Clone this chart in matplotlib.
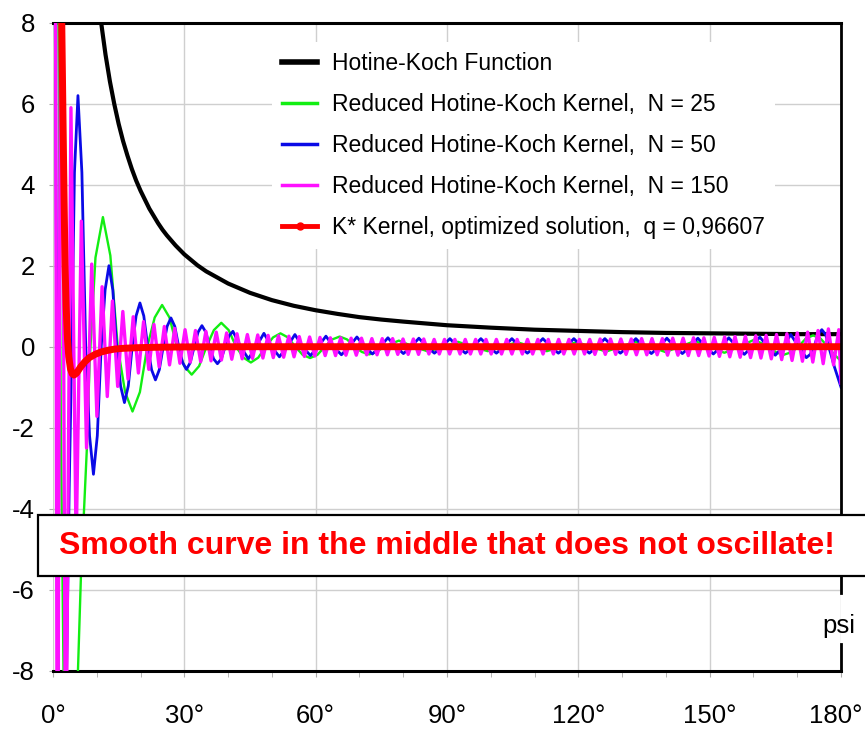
import matplotlib
matplotlib.use('Agg')
import matplotlib.pyplot as plt
from matplotlib.lines import Line2D
from matplotlib.patches import Rectangle
from matplotlib.ticker import MultipleLocator
from matplotlib.transforms import ScaledTranslation

# ---- data (psi in degrees, kernel value) ----
hk_x = [10, 11, 12, 13, 14, 15, 16, 17, 18, 19, 20, 22, 24, 25, 26, 28, 30, 33, 35, 40,
        45, 50, 55, 60, 65, 70, 75, 80, 90, 100, 110, 120, 130, 140, 150, 160, 170, 180]
hk_y = [8.95, 8.0, 7.21, 6.55, 5.99, 5.50, 5.08, 4.72, 4.39, 4.10, 3.85, 3.41, 3.05, 2.89,
        2.75, 2.50, 2.28, 2.01, 1.86, 1.56, 1.33, 1.15, 1.01, 0.90, 0.81, 0.73, 0.67, 0.62,
        0.53, 0.47, 0.42, 0.39, 0.36, 0.34, 0.33, 0.32, 0.31, 0.31]

n25_x = [0.0, 1.0, 1.8, 2.9, 4.0, 5.0, 5.7, 6.4, 7.06, 7.74,
         8.4, 9.7, 11.4, 13.1, 14.78, 16.47, 18.16, 19.85, 21.54, 23.23,
         24.92, 26.61, 28.3, 29.99, 31.68, 33.37, 35.06, 36.75, 38.44, 40.13,
         41.82, 43.51, 45.2, 46.89, 48.58, 50.27, 51.96, 53.65, 55.34, 57.03,
         58.72, 60.41, 62.1, 63.79, 65.48, 67.17, 68.86, 70.55, 72.24, 73.93,
         75.62, 79.0, 82.38, 85.76, 89.14, 92.52, 95.9, 99.28, 102.66, 106.04,
         109.42, 112.8, 116.18, 119.56, 122.94, 126.32, 129.7, 133.08, 136.46, 139.84,
         143.22, 146.6, 149.98, 153.36, 156.74, 160.12, 163.5, 165.19, 166.88, 168.57,
         170.26, 171.95, 173.64, 175.33, 177.02, 178.5, 180.0]
n25_y = [40, 12, -2, -13, -16, -12, -8, -5.6, -4.1, -2.5,
         -0.3, 2.2, 3.2, 2.25, 0, -1.12, -1.6, -1.12, 0, 0.72,
         1.03, 0.72, 0, -0.48, -0.69, -0.48, 0, 0.41, 0.59, 0.41,
         0, -0.27, -0.39, -0.27, 0, 0.23, 0.33, 0.23, 0, -0.2,
         -0.28, -0.2, 0, 0.18, 0.25, 0.18, 0, -0.13, -0.19, -0.13,
         0, 0.15, 0, -0.12, 0, 0.12, 0, -0.11, 0, 0.11,
         0, -0.11, 0, 0.11, 0, -0.12, 0, 0.12, 0, -0.13,
         0, 0.14, 0, -0.15, 0, 0.17, 0, -0.14, -0.2, -0.14,
         0, 0.2, 0.28, 0.2, 0, -0.2, -0.35]

n50_x = [0.0, 0.5, 1.2, 2.2, 3.1, 3.7, 4.3, 4.9, 5.7, 6.6,
         7.47, 8.35, 9.24, 10.12, 11.01, 11.9, 12.78, 13.66, 14.55, 15.44,
         16.32, 17.2, 18.09, 18.98, 19.86, 20.74, 21.63, 22.52, 23.4, 24.28,
         25.17, 26.06, 26.94, 27.82, 28.71, 29.6, 30.48, 31.36, 32.25, 33.14,
         34.02, 34.9, 35.79, 36.68, 37.56, 38.44, 39.33, 40.22, 41.1, 42.87,
         44.64, 46.41, 48.18, 49.95, 51.72, 53.49, 55.26, 57.03, 58.8, 60.57,
         62.34, 64.11, 65.88, 67.65, 69.42, 71.19, 72.96, 74.73, 76.5, 78.27,
         80.04, 81.81, 83.58, 85.35, 87.12, 88.89, 90.66, 92.43, 94.2, 95.97,
         97.74, 99.51, 101.28, 103.05, 104.82, 106.59, 108.36, 110.13, 111.9, 113.67,
         115.44, 117.21, 118.98, 120.75, 122.52, 124.29, 126.06, 127.83, 129.6, 131.37,
         133.14, 134.91, 136.68, 138.45, 140.22, 141.99, 143.76, 145.53, 147.3, 149.07,
         150.84, 152.61, 154.38, 156.15, 157.92, 159.69, 161.46, 163.23, 165.0, 166.77,
         168.54, 170.31, 172.08, 172.96, 173.85, 174.74, 175.62, 176.5, 177.2, 178.5,
         180.0]
n50_y = [40, 8.5, -8.5, -15, -8, -3.5, 0, 4.3, 6.2, 4.3,
         0, -2.2, -3.15, -2.2, 0, 1.4, 2.0, 1.4, 0, -0.97,
         -1.38, -0.97, 0, 0.76, 1.08, 0.76, 0, -0.57, -0.82, -0.57,
         0, 0.5, 0.71, 0.5, 0, -0.39, -0.56, -0.39, 0, 0.36,
         0.52, 0.36, 0, -0.3, -0.42, -0.3, 0, 0.27, 0.38, 0,
         -0.3, 0, 0.33, 0, -0.25, 0, 0.30, 0, -0.22, 0,
         0.26, 0, -0.2, 0, 0.24, 0, -0.18, 0, 0.22, 0,
         -0.17, 0, 0.21, 0, -0.16, 0, 0.2, 0, -0.16, 0,
         0.2, 0, -0.16, 0, 0.2, 0, -0.16, 0, 0.2, 0,
         -0.16, 0, 0.2, 0, -0.16, 0, 0.2, 0, -0.16, 0,
         0.2, 0, -0.17, 0, 0.21, 0, -0.17, 0, 0.21, 0,
         -0.18, 0, 0.22, 0, -0.19, 0, 0.24, 0, -0.21, 0,
         0.30, 0, -0.27, -0.19, 0, 0.3, 0.42, 0.3, 0, -0.5,
         -1.0]

n150_x = [0.0, 1.0, 1.9, 2.9, 4.1, 5.29, 6.47, 7.66, 8.84, 10.03,
          11.21, 12.4, 13.58, 14.77, 15.95, 17.14, 18.32, 19.51, 20.69, 21.88,
          23.06, 24.25, 25.43, 26.62, 27.8, 28.99, 30.17, 31.36, 32.54,
          33.73, 34.92, 36.10, 37.29, 38.47, 39.66, 40.84, 42.03, 43.21, 44.40,
          45.58, 46.77, 47.95, 49.14, 50.32, 51.51, 52.69, 53.88, 55.06, 56.25,
          57.43, 58.62, 59.80, 60.99, 62.17, 63.36, 64.54, 65.73, 66.91, 68.10,
          69.28, 70.47, 71.65, 72.84, 74.02, 75.21, 76.39, 77.58, 78.76, 79.95,
          81.13, 82.32, 83.50, 84.69, 85.87, 87.06, 88.24, 89.43, 90.61, 91.80,
          92.98, 94.17, 95.35, 96.54, 97.72, 98.91, 100.09, 101.28, 102.46, 103.65,
          104.83, 106.02, 107.20, 108.39, 109.57, 110.76, 111.94, 113.13, 114.31, 115.50,
          116.68, 117.87, 119.05, 120.24, 121.42, 122.61, 123.79, 124.98, 126.16, 127.35,
          128.53, 129.72, 130.90, 132.09, 133.27, 134.46, 135.64, 136.83, 138.01, 139.20,
          140.38, 141.57, 142.75, 143.94, 145.12, 146.31, 147.49, 148.68, 149.86, 151.05,
          152.23, 153.42, 154.60, 155.79, 156.97, 158.16, 159.34, 160.53, 161.71, 162.90,
          164.08, 165.27, 166.45, 167.64, 168.82, 170.01, 171.19, 172.38, 173.56, 174.75,
          175.93, 177.12, 178.30, 179.49, 180.0]
n150_y = [40, -14, 14, -12, 5.9, -5.0, 3.1, -2.5, 2.04, -1.72,
          1.48, -1.23, 1.13, -0.98, 0.87, -0.8, 0.74, -0.65, 0.62, -0.56,
          0.55, -0.5, 0.5, -0.45, 0.45, -0.41, 0.42, -0.38, 0.4,
          -0.37, 0.38, -0.35, 0.36, -0.33, 0.34, -0.31, 0.32, -0.3, 0.3,
          -0.29, 0.29, -0.28, 0.28, -0.27, 0.27, -0.26, 0.26, -0.25, 0.25,
          -0.24, 0.24, -0.23, 0.23, -0.22, 0.22, -0.22, 0.22, -0.21, 0.21,
          -0.21, 0.21, -0.2, 0.2, -0.2, 0.2, -0.2, 0.2, -0.19, 0.19,
          -0.19, 0.19, -0.19, 0.19, -0.18, 0.18, -0.18, 0.18, -0.18, 0.18,
          -0.18, 0.18, -0.18, 0.18, -0.18, 0.18, -0.18, 0.18, -0.18, 0.18,
          -0.18, 0.18, -0.18, 0.18, -0.18, 0.18, -0.18, 0.18, -0.18, 0.18,
          -0.18, 0.18, -0.18, 0.18, -0.18, 0.18, -0.19, 0.19, -0.19, 0.19,
          -0.19, 0.19, -0.19, 0.19, -0.2, 0.2, -0.2, 0.2, -0.2, 0.2,
          -0.21, 0.21, -0.21, 0.21, -0.22, 0.22, -0.22, 0.22, -0.23, 0.23,
          -0.24, 0.24, -0.25, 0.25, -0.26, 0.26, -0.27, 0.27, -0.28, 0.28,
          -0.3, 0.3, -0.32, 0.32, -0.34, 0.34, -0.36, 0.36, -0.38, 0.4,
          -0.42, 0.44, -0.45, 0.42, -0.9]

kstar_x = [1.7, 2.0, 2.3, 2.55, 2.75, 3.0, 3.3, 3.6, 4.0, 4.4, 4.8, 5.4, 6.3, 7.3, 8.3,
           9.6, 11.0, 12.5, 14.0, 16.0, 19.0, 23.0, 30.0, 45.0, 90.0, 180.0]
kstar_y = [12, 8.0, 5.5, 3.5, 2.0, 1.0, 0.2, -0.25, -0.55, -0.67, -0.7, -0.65, -0.5, -0.37,
           -0.27, -0.19, -0.13, -0.09, -0.06, -0.04, -0.025, -0.015, -0.005, 0.0, 0.0, 0.0]

labels = ['Hotine-Koch Function',
          'Reduced Hotine-Koch Kernel,  N = 25',
          'Reduced Hotine-Koch Kernel,  N = 50',
          'Reduced Hotine-Koch Kernel,  N = 150',
          'K* Kernel, optimized solution,  q = 0,96607']
x_ticks = [0, 30, 60, 90, 120, 150, 180]
y_ticks = [-8, -6, -4, -2, 0, 2, 4, 6, 8]

green = '#12ee12'
blue = '#0a0ae6'
magenta = '#ff10ff'
red = '#ff0000'

plt.rcParams['font.family'] = ['Liberation Sans', 'DejaVu Sans']

fig = plt.figure(figsize=(8.65, 7.32), dpi=100)
ax = fig.add_axes([53 / 865, 61.3 / 732, 788 / 865, 648 / 732])

ax.plot(hk_x, hk_y, color='black', lw=3.0, zorder=2)
ax.plot(n25_x, n25_y, color=green, lw=1.7, zorder=3, solid_joinstyle='round')
ax.plot(n50_x, n50_y, color=blue, lw=2.0, zorder=4, solid_joinstyle='round')
ax.plot(n150_x, n150_y, color=magenta, lw=2.4, zorder=5, solid_joinstyle='round')
ax.plot(kstar_x, kstar_y, color=red, lw=5, zorder=6, solid_joinstyle='round')

ax.set_xlim(0, 180)
ax.set_ylim(-8, 8)
ax.set_xticks(x_ticks)
ax.set_xticklabels(['%d°' % t for t in x_ticks])
ax.xaxis.set_minor_locator(MultipleLocator(10))
ax.set_yticks(y_ticks)
ax.set_yticklabels([str(t) for t in y_ticks])
ax.tick_params(axis='x', which='both', direction='out', length=4, color='#aaaaaa',
               pad=20, labelsize=18.5)
ax.tick_params(axis='y', direction='out', length=3, color='#aaaaaa', pad=10, labelsize=18.5)

# last label sits right on the picture edge: nudge it a little inwards
last = ax.get_xticklabels()[-1]
last.set_transform(last.get_transform() + ScaledTranslation(-5 / 100, 0, fig.dpi_scale_trans))

ax.grid(True, which='major', color='#cfcfcf', lw=1)
ax.set_axisbelow(True)

for side in ['left', 'right']:
    ax.spines[side].set_visible(False)
for side in ['top', 'bottom']:
    ax.spines[side].set_color('black')
    ax.spines[side].set_linewidth(2.2)
# right border with a gap for the axis name
ax.axvline(180, ymin=(8 - 6.07) / 16, ymax=1, color='black', lw=2, clip_on=False, zorder=7)
ax.axvline(180, ymin=0, ymax=(8 - 7.35) / 16, color='black', lw=2, clip_on=False, zorder=7)
ax.text(179.6, -7.06, 'psi', ha='center', va='baseline', fontsize=18.5)

handles = [Line2D([], [], color='black', lw=4),
           Line2D([], [], color=green, lw=2.5),
           Line2D([], [], color=blue, lw=2.5),
           Line2D([], [], color=magenta, lw=2.5),
           Line2D([], [], color=red, lw=3.5, marker='o', ms=5)]
leg = ax.legend(handles, labels, loc='upper left', bbox_to_anchor=(0.278, 0.970),
                frameon=True, facecolor='white', edgecolor='none', framealpha=1,
                fancybox=False, fontsize=16.5, handlelength=1.5, handletextpad=0.65,
                labelspacing=0.78, borderpad=0.45, borderaxespad=0)
leg.set_zorder(8)

# annotation box
fig.add_artist(Rectangle((38 / 865, 156 / 732), 1.0, 61 / 732, transform=fig.transFigure,
                         facecolor='white', edgecolor='black', lw=1.6, zorder=10))
fig.text(447 / 865, 186 / 732, 'Smooth curve in the middle that does not oscillate!',
         color=red, fontsize=23, fontweight='bold', ha='center', va='center', zorder=11)

fig.savefig('out.png', dpi=100)
